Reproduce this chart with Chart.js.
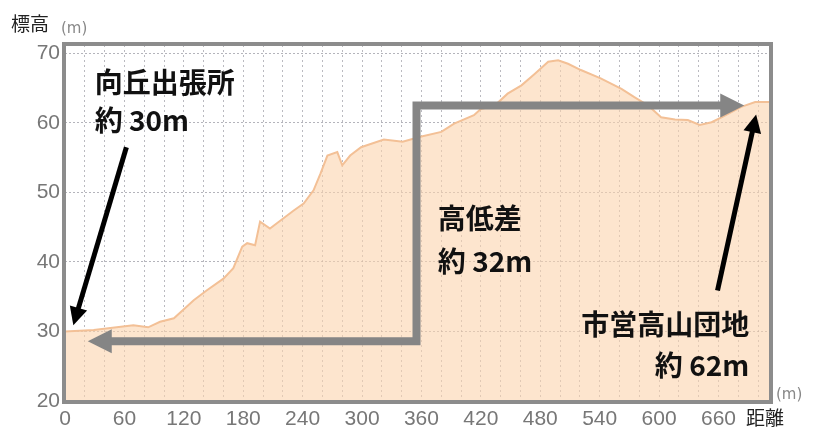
<!DOCTYPE html>
<html><head><meta charset="utf-8">
<script src="https://cdn.jsdelivr.net/npm/chart.js@4"></script>
<style>html,body{margin:0;padding:0;background:#fff;}canvas{display:block;}</style>
</head><body>
<canvas id="c" width="815" height="429"></canvas>
<script>
// Distance along route (m)
const distance = [0, 29, 69, 84, 96, 110, 130, 143, 160, 170, 179, 184, 192, 197, 207, 218, 231, 241, 251, 258, 265, 275, 280, 288, 299, 322, 341, 359, 380, 393, 413, 420, 434, 447, 461, 474, 488, 498, 508, 521, 541, 562, 575, 589, 602, 616, 629, 641, 653, 663, 683, 697, 712];
// Elevation (m)
const elevation = [30.0, 30.2, 30.9, 30.6, 31.4, 31.9, 34.5, 35.9, 37.6, 39.1, 42.2, 42.7, 42.4, 45.8, 44.8, 46.0, 47.4, 48.4, 50.3, 52.7, 55.3, 55.8, 53.9, 55.3, 56.5, 57.6, 57.3, 58.0, 58.7, 59.9, 61.1, 62.0, 62.5, 64.2, 65.4, 67.0, 68.8, 69.0, 68.5, 67.6, 66.4, 64.9, 63.7, 62.5, 60.8, 60.5, 60.4, 59.7, 60.1, 60.8, 62.3, 63.0, 63.0];
// Tick labels
const xTickLabels = [0, 60, 120, 180, 240, 300, 360, 420, 480, 540, 600, 660];
const yTickLabels = [20, 30, 40, 50, 60, 70];
// Annotation anchors in data units [distance, elevation]
const diffPath = [[23, 28.6], [355, 28.6], [355, 62.5], [686, 62.5]];
const startArrow = [[62, 56.5], [8.4, 30.9]];
const endArrow = [[659, 35.9], [698, 61.2]];
const labels = [
  {text: '向丘出張所', at: [30, 64.3], align: 'left'},
  {text: '約 30m', at: [30, 58.8], align: 'left'},
  {text: '高低差', at: [376.5, 44.7], align: 'left'},
  {text: '約 32m', at: [376.5, 38.5], align: 'left'},
  {text: '市営高山団地', at: [691, 29.5], align: 'right'},
  {text: '約 62m', at: [691, 23.6], align: 'right'}
];

const JP = '"Noto Sans CJK JP", "Noto Sans", sans-serif';

function arrowHead(ctx, fx, fy, tx, ty, len, half, color) {
  const a = Math.atan2(ty - fy, tx - fx);
  ctx.save();
  ctx.fillStyle = color;
  ctx.translate(tx, ty);
  ctx.rotate(a);
  ctx.beginPath();
  ctx.moveTo(0, 0);
  ctx.lineTo(-len, -half);
  ctx.lineTo(-len, half);
  ctx.closePath();
  ctx.fill();
  ctx.restore();
}

const overlay = {
  id: 'overlay',
  afterDatasetsDraw(chart) {
    const {ctx, chartArea: ca} = chart;
    ctx.save();
    ctx.strokeStyle = '#8c8c8c';
    ctx.lineWidth = 4;
    ctx.strokeRect(ca.left - 1, ca.top - 1, ca.right - ca.left + 2, ca.bottom - ca.top + 2);
    ctx.restore();
  },
  afterDraw(chart) {
    const {ctx, scales} = chart;
    const X = v => scales.x.getPixelForValue(v);
    const Y = v => scales.y.getPixelForValue(v);
    ctx.save();
    const p = diffPath.map(q => [X(q[0]), Y(q[1])]);
    const gray = '#858585';
    const hl = 24, hh = 12;
    ctx.strokeStyle = gray;
    ctx.lineWidth = 8;
    ctx.lineJoin = 'miter';
    ctx.lineCap = 'butt';
    ctx.beginPath();
    ctx.moveTo(p[0][0] + hl - 1, p[0][1]);
    ctx.lineTo(p[1][0], p[1][1]);
    ctx.lineTo(p[2][0], p[2][1]);
    ctx.lineTo(p[3][0] - hl + 1, p[3][1]);
    ctx.stroke();
    arrowHead(ctx, p[1][0], p[1][1], p[0][0], p[0][1], hl, hh, gray);
    arrowHead(ctx, p[2][0], p[2][1], p[3][0], p[3][1], hl, hh, gray);
    [startArrow, endArrow].forEach(ar => {
      const fx = X(ar[0][0]), fy = Y(ar[0][1]);
      const tx = X(ar[1][0]), ty = Y(ar[1][1]);
      const a = Math.atan2(ty - fy, tx - fx);
      const L = 18;
      ctx.strokeStyle = '#000';
      ctx.lineWidth = 5;
      ctx.beginPath();
      ctx.moveTo(fx, fy);
      ctx.lineTo(tx - Math.cos(a) * (L - 2), ty - Math.sin(a) * (L - 2));
      ctx.stroke();
      arrowHead(ctx, fx, fy, tx, ty, L, 9, '#000');
    });
    ctx.fillStyle = '#111';
    ctx.font = 'bold 28px ' + JP;
    ctx.textBaseline = 'alphabetic';
    labels.forEach(l => {
      ctx.textAlign = l.align;
      ctx.fillText(l.text, X(l.at[0]), Y(l.at[1]));
    });
    ctx.textAlign = 'left';
    ctx.fillStyle = '#222';
    ctx.font = '19px ' + JP;
    ctx.fillText('標高', 11, 31);
    ctx.fillText('距離', 746, 425);
    ctx.fillStyle = '#888';
    ctx.font = '15px "DejaVu Sans", sans-serif';
    ctx.fillText('(m)', 61, 33);
    ctx.fillText('(m)', 776, 399);
    ctx.restore();
  }
};

const ctx = document.getElementById('c').getContext('2d');
new Chart(ctx, {
  type: 'line',
  data: {
    datasets: [{
      data: distance.map((d, i) => ({x: d, y: elevation[i]})),
      fill: 'start',
      backgroundColor: 'rgba(251,212,174,0.6)',
      borderColor: '#f3c096',
      borderWidth: 2,
      pointRadius: 0,
      tension: 0
    }]
  },
  options: {
    responsive: false,
    animation: false,
    events: [],
    layout: {padding: {top: 45, right: 45, left: 0, bottom: 0}},
    plugins: {legend: {display: false}, tooltip: {enabled: false}},
    scales: {
      x: {
        type: 'linear',
        min: 0, max: 712,
        afterFit: s => { s.height = 28; },
        ticks: {
          stepSize: 20, autoSkip: false, includeBounds: false, maxRotation: 0,
          padding: 6,
          color: '#777',
          font: {size: 21, family: '"Liberation Sans", Arial, sans-serif'},
          callback: v => xTickLabels.includes(v) ? String(v) : ''
        },
        grid: {color: 'rgba(140,140,150,0.6)', drawTicks: false, lineWidth: 1},
        border: {display: false, dash: [2, 3]}
      },
      y: {
        type: 'linear',
        min: 20, max: 71.2,
        afterFit: s => { s.width = 65; },
        ticks: {
          stepSize: 10, includeBounds: false, padding: 5,
          color: '#777',
          font: {size: 21, family: '"Liberation Sans", Arial, sans-serif'},
          callback: v => yTickLabels.includes(v) ? String(v) : ''
        },
        grid: {color: 'rgba(140,140,150,0.65)', drawTicks: false, lineWidth: 1},
        border: {display: false, dash: [2, 2]}
      }
    }
  },
  plugins: [overlay]
});
</script>
</body></html>
